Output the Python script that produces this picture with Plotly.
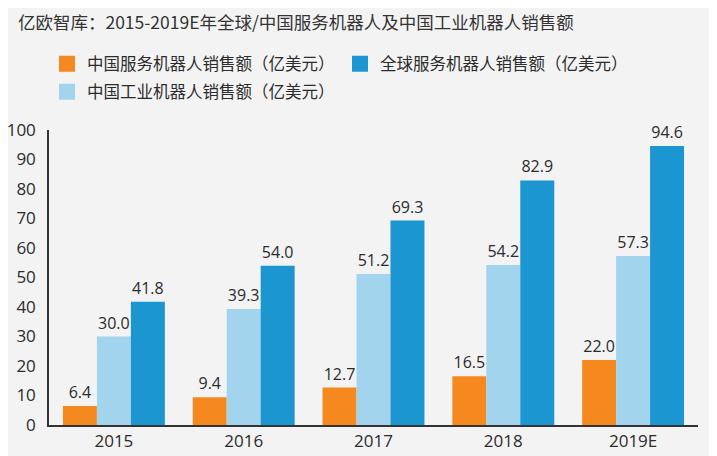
import plotly.graph_objects as go

categories = ["2015", "2016", "2017", "2018", "2019E"]
cn_service = [6.4, 9.4, 12.7, 16.5, 22.0]
cn_industrial = [30.0, 39.3, 51.2, 54.2, 57.3]
global_service = [41.8, 54.0, 69.3, 82.9, 94.6]
y_ticks = [0, 10, 20, 30, 40, 50, 60, 70, 80, 90, 100]

name_cn_service = "中国服务机器人销售额（亿美元）"
name_cn_industrial = "中国工业机器人销售额（亿美元）"
name_global_service = "全球服务机器人销售额（亿美元）"

C_ORANGE = "#F5891F"
C_LIGHT = "#A3D4EE"
C_DARK = "#1B96D1"
BG = "#F3F3F3"
FONT = "Noto Sans CJK SC, Open Sans, sans-serif"
TXT = "#2b2b2b"

fig = go.Figure()
for name, vals, col in [
    (name_cn_service, cn_service, C_ORANGE),
    (name_cn_industrial, cn_industrial, C_LIGHT),
    (name_global_service, global_service, C_DARK),
]:
    fig.add_trace(go.Bar(
        x=categories, y=vals, name=name, marker_color=col, marker_line_width=0,
        text=[f"{v:.1f}" for v in vals], textposition="outside",
        textfont=dict(size=16, color=TXT, family="Open Sans, sans-serif"),
        cliponaxis=False, showlegend=False,
    ))

# legend proxies: row 1 (legend) orange + dark blue, row 2 (legend2) light blue
for name, col, leg in [
    (name_cn_service, C_ORANGE, "legend"),
    (name_global_service, C_DARK, "legend"),
    (name_cn_industrial, C_LIGHT, "legend2"),
]:
    fig.add_trace(go.Scatter(
        x=[None], y=[None], mode="markers", name=name, legend=leg,
        marker=dict(symbol="square", size=16, color=col),
    ))

legend_common = dict(
    orientation="h", xref="container", yref="container",
    xanchor="left", yanchor="middle",
    entrywidth=248, entrywidthmode="pixels",
    font=dict(size=16.5, color=TXT, family=FONT),
    itemsizing="trace", bgcolor="rgba(0,0,0,0)",
)

fig.update_layout(
    width=709, height=448,
    paper_bgcolor=BG, plot_bgcolor=BG,
    margin=dict(l=41, r=19, t=122, b=31, autoexpand=False),
    barmode="group", bargap=0.215, bargroupgap=0,
    font=dict(family=FONT, color=TXT),
    title=dict(
        text="亿欧智库：2015-2019E年全球/中国服务机器人及中国工业机器人销售额",
        x=0.014, xanchor="left", y=0.966, yanchor="middle",
        font=dict(size=17.5, color="#333333", family=FONT),
    ),
    legend=dict(legend_common, x=0.055, y=0.875),
    legend2=dict(legend_common, x=0.055, y=0.8125),
    xaxis=dict(
        showline=True, linecolor="#333333", linewidth=1.5,
        ticks="", showgrid=False, zeroline=False,
        tickfont=dict(size=17, color=TXT, family="Open Sans, sans-serif"),
    ),
    yaxis=dict(
        range=[0, 100], tickvals=y_ticks, showline=True, linecolor="#333333",
        linewidth=1.5, ticks="", showgrid=False, zeroline=False,
        tickfont=dict(size=17, color=TXT, family="Open Sans, sans-serif"),
        ticklabelstandoff=8,
    ),
)

fig.write_html("out.html")
